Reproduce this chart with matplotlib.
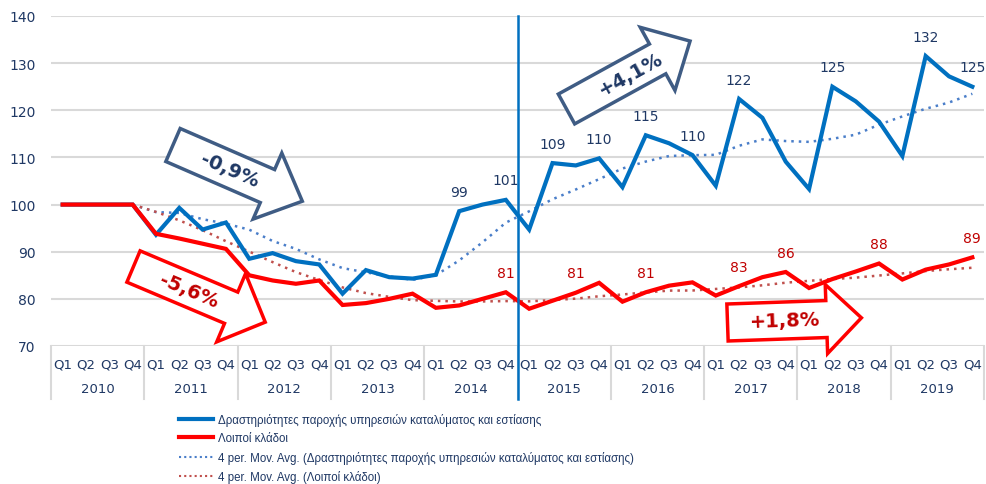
import numpy as np
import pandas as pd
import matplotlib
matplotlib.use('Agg')
import matplotlib.pyplot as plt
from matplotlib.patches import Polygon
from matplotlib.lines import Line2D

years = [str(y) for y in range(2010, 2020)]
quarters = ['Q1', 'Q2', 'Q3', 'Q4']

accom = [100, 100, 100, 100,
         93.6, 99.3, 94.7, 96.2,
         88.5, 89.7, 88.0, 87.3,
         81.1, 86.1, 84.6, 84.3,
         85.1, 98.6, 100.0, 101.0,
         94.7, 108.8, 108.3, 109.8,
         103.7, 114.7, 113.0, 110.5,
         104.0, 122.4, 118.4, 109.1,
         103.3, 125.0, 121.9, 117.6,
         110.3, 131.5, 127.2, 125.0]

other = [100, 100, 100, 100,
         93.8, 92.8, 91.7, 90.6,
         85.0, 83.9, 83.2, 83.9,
         78.7, 79.1, 80.0, 81.1,
         78.1, 78.6, 80.0, 81.4,
         77.9, 79.6, 81.3, 83.4,
         79.4, 81.4, 82.8, 83.5,
         80.7, 82.7, 84.6, 85.7,
         82.3, 84.2, 85.8, 87.5,
         84.1, 86.2, 87.3, 88.8]

# quarters (index) that carry a data label
accom_labels = [17, 19, 21, 23, 25, 27, 29, 33, 37, 39]
other_labels = [19, 22, 25, 29, 31, 35, 39]

name_a = 'Δραστηριότητες παροχής υπηρεσιών καταλύματος και εστίασης'
name_o = 'Λοιποί κλάδοι'

NAVY = '#1F3864'
BLUE = '#0070C0'
RED = '#FF0000'
DARKRED = '#C00000'

W, H = 986, 485
fig = plt.figure(figsize=(W / 100, H / 100), dpi=100)
ax = fig.add_axes([51 / W, 1 - 347 / H, 933 / W, (347 - 17) / H])

x = np.arange(len(accom))
ma_a = pd.Series(accom).rolling(4).mean()
ma_o = pd.Series(other).rolling(4).mean()

for v in range(70, 141, 10):
    ax.axhline(v, color='#D9D9D9', lw=1.5, zorder=0)

ax.plot(x, ma_a, ls=(0, (1, 2)), color='#4A7EC9', lw=1.8, zorder=2)
ax.plot(x, ma_o, ls=(0, (1, 2)), color='#C0504D', lw=1.8, zorder=2)
ax.plot(x, accom, color=BLUE, lw=3, solid_joinstyle='miter', zorder=3)
ax.plot(x, other, color=RED, lw=3, solid_joinstyle='miter', zorder=4)

for i in accom_labels:
    ax.annotate(f'{accom[i]:.0f}', (x[i], accom[i]), xytext=(0, 14), textcoords='offset points',
                ha='center', va='center', fontsize=10, color=NAVY, zorder=6)
for i in other_labels:
    ax.annotate(f'{other[i]:.0f}', (x[i], other[i]), xytext=(0, 14), textcoords='offset points',
                ha='center', va='center', fontsize=10, color=DARKRED, zorder=6)

ax.set_xlim(-0.5, len(accom) - 0.5)
ax.set_ylim(70, 140)
ax.set_yticks(range(70, 141, 10))
ax.tick_params(axis='y', length=0, pad=11, labelsize=10, labelcolor=NAVY)
ax.set_xticks(x)
ax.set_xticklabels(quarters * len(years))
ax.tick_params(axis='x', length=0, pad=8, labelsize=9.5, labelcolor=NAVY)
for s in ax.spines.values():
    s.set_visible(False)

# year groups under the quarter labels
trans = ax.get_xaxis_transform()
for k in range(len(years) + 1):
    ax.plot([4 * k - 0.5] * 2, [0, -0.16], transform=trans, color='#D9D9D9', lw=1.5, clip_on=False)
for k, yr in enumerate(years):
    ax.text(4 * k + 1.5, -0.13, yr, transform=trans, ha='center', va='center',
            fontsize=9.5, color=NAVY)

# 2014 / 2015 split
ax.plot([19.5, 19.5], [-0.16, 1], transform=trans, color=BLUE, lw=1.8, clip_on=False, zorder=5)


def block_arrow(x0, y0, ang, L, bw, hw, hl, edge, label, tcol, tu):
    # shape given in pixels, y measured from the top of the figure
    a = np.radians(ang)
    pts = [(0, -bw), (L - hl, -bw), (L - hl, -hw), (L, 0), (L - hl, hw), (L - hl, bw), (0, bw)]
    out = []
    for u, v in pts:
        px = x0 + u * np.cos(a) - v * np.sin(a)
        py = (H - y0) + u * np.sin(a) + v * np.cos(a)
        out.append((px / W, py / H))
    fig.patches.append(Polygon(out, closed=True, transform=fig.transFigure, facecolor='white',
                               edgecolor=edge, lw=2.5, joinstyle='miter', zorder=7))
    tx = x0 + tu * np.cos(a)
    ty = (H - y0) + tu * np.sin(a)
    fig.text(tx / W, ty / H, label, rotation=ang, rotation_mode='anchor', ha='center', va='center',
             fontsize=14, fontweight='bold', color=tcol, zorder=8)


block_arrow(173, 146, -23.5, 141, 18, 36, 38, '#3F5C84', '-0,9%', NAVY, 62)
block_arrow(133.5, 267.5, -22.9, 143, 17, 37, 37, RED, '-5,6%', DARKRED, 60)
block_arrow(566.5, 110, 28.8, 141, 17, 36, 37, '#3F5C84', '+4,1%', NAVY, 73)
block_arrow(727.5, 323.5, 2.0, 134, 18.5, 34.5, 35, RED, '+1,8%', DARKRED, 57)

handles = [Line2D([], [], color=BLUE, lw=3),
           Line2D([], [], color=RED, lw=3),
           Line2D([], [], color='#4A7EC9', lw=1.5, ls=(0, (1, 1.5))),
           Line2D([], [], color='#C0504D', lw=1.5, ls=(0, (1, 1.5)))]
labels = [name_a, name_o,
          f'4 per. Mov. Avg. ({name_a})',
          f'4 per. Mov. Avg. ({name_o})']
leg = fig.legend(handles, labels, loc='upper left', bbox_to_anchor=(179 / W, 1 - 414 / H),
                 frameon=False, borderpad=0, borderaxespad=0, handlelength=2.95,
                 handletextpad=0.43, labelspacing=0.55,
                 prop={'family': 'Liberation Sans', 'size': 8.3})
for t in leg.get_texts():
    t.set_color(NAVY)

fig.savefig('out.png', dpi=100)
